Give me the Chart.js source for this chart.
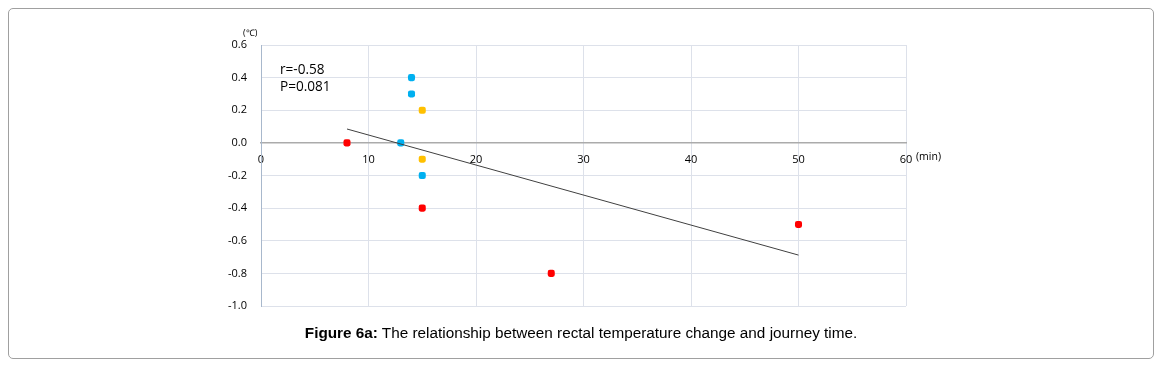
<!DOCTYPE html>
<html>
<head>
<meta charset="utf-8">
<script src="https://cdn.jsdelivr.net/npm/chart.js@4"></script>
<style>
  html, body { margin: 0; padding: 0; background: #fff; }
  body { width: 1162px; height: 365px; position: relative; overflow: hidden; }
  #frame { position: absolute; left: 8px; top: 8px; width: 1146px; height: 351px; border: 1px solid #a0a0a0; border-radius: 5px; box-sizing: border-box; }
  #wrap { position: absolute; left: 0; top: 0; width: 1162px; height: 365px; }
  #caption { position: absolute; left: 0; width: 1162px; top: 324px; text-align: center; font-family: "Liberation Sans", Arial, sans-serif; font-size: 15.3px; color: #000; }
</style>
</head>
<body>
<div id="frame"></div>
<div id="wrap"><canvas id="c" width="1162" height="365"></canvas></div>
<div id="caption"><b>Figure 6a:</b> The relationship between rectal temperature change and journey time.</div>
<script>
// Data
const redX = [8, 15, 27, 50];
const redY = [0.0, -0.4, -0.8, -0.5];
const blueX = [13, 14, 14, 15];
const blueY = [0.0, 0.4, 0.3, -0.2];
const yellowX = [15, 15];
const yellowY = [0.2, -0.1];
const trendX = [8, 50];
const trendY = [0.085, -0.688];
const xTicks = [0, 10, 20, 30, 40, 50, 60];
const yTicks = [0.6, 0.4, 0.2, 0.0, -0.2, -0.4, -0.6, -0.8, -1.0];
const statLines = ["r=-0.58", "P=0.081"];

const pts = (xs, ys) => xs.map((x, i) => ({x: x, y: ys[i]}));

const labelsPlugin = {
  id: 'extraLabels',
  afterDraw(chart) {
    const ctx = chart.ctx;
    const a = chart.chartArea;
    const ys = chart.scales.y;
    ctx.save();
    ctx.fillStyle = '#000';
    ctx.font = '9px "Open Sans", sans-serif';
    ctx.textAlign = 'left';
    ctx.textBaseline = 'middle';
    ctx.fillText('(\u2103)', a.left - 18, a.top - 12);
    ctx.font = '10.5px "Open Sans", sans-serif';
    ctx.fillText('(min)', a.right + 10, ys.getPixelForValue(0) + 14);
    ctx.font = '13.6px "Open Sans", sans-serif';
    ctx.fillText(statLines[0], a.left + 19, a.top + 25);
    ctx.fillText(statLines[1], a.left + 19, a.top + 42);
    ctx.restore();
  }
};

new Chart(document.getElementById('c'), {
  type: 'scatter',
  data: {
    datasets: [
      { data: pts(trendX, trendY), showLine: true, borderColor: '#404040', borderWidth: 1, pointRadius: 0, order: 0 },
      { data: pts(redX, redY), backgroundColor: '#ff0000', borderColor: '#ff0000', pointStyle: 'rectRounded', pointRadius: 4.1, borderWidth: 0 },
      { data: pts(blueX, blueY), backgroundColor: '#00b0f0', borderColor: '#00b0f0', pointStyle: 'rectRounded', pointRadius: 4.1, borderWidth: 0 },
      { data: pts(yellowX, yellowY), backgroundColor: '#ffc000', borderColor: '#ffc000', pointStyle: 'rectRounded', pointRadius: 4.1, borderWidth: 0 }
    ]
  },
  options: {
    responsive: false,
    animation: false,
    devicePixelRatio: 1,
    layout: { padding: { left: 0, right: 256, top: 45, bottom: 59 } },
    plugins: { legend: { display: false }, tooltip: { enabled: false } },
    scales: {
      x: {
        type: 'linear',
        position: { y: 0 },
        min: 0, max: 60,
        afterBuildTicks: s => { s.ticks = xTicks.map(v => ({value: v})); },
        grid: { color: '#dde1ea', lineWidth: 1, drawTicks: false },
        border: { color: '#ababab', width: 1.5 },
        ticks: { padding: 10, color: '#000', font: { family: '"Open Sans", sans-serif', size: 11 }, maxRotation: 0 }
      },
      y: {
        type: 'linear',
        min: -1.0, max: 0.6,
        afterBuildTicks: s => { s.ticks = yTicks.map(v => ({value: v})); },
        afterFit: s => { s.width = 261; },
        grid: { color: '#dde1ea', lineWidth: 1, drawTicks: false },
        border: { color: '#a8b8cc', width: 1 },
        ticks: { padding: 14, color: '#000', font: { family: '"Open Sans", sans-serif', size: 11 },
          callback: v => v.toFixed(1) }
      }
    }
  },
  plugins: [labelsPlugin]
});
</script>
</body>
</html>
